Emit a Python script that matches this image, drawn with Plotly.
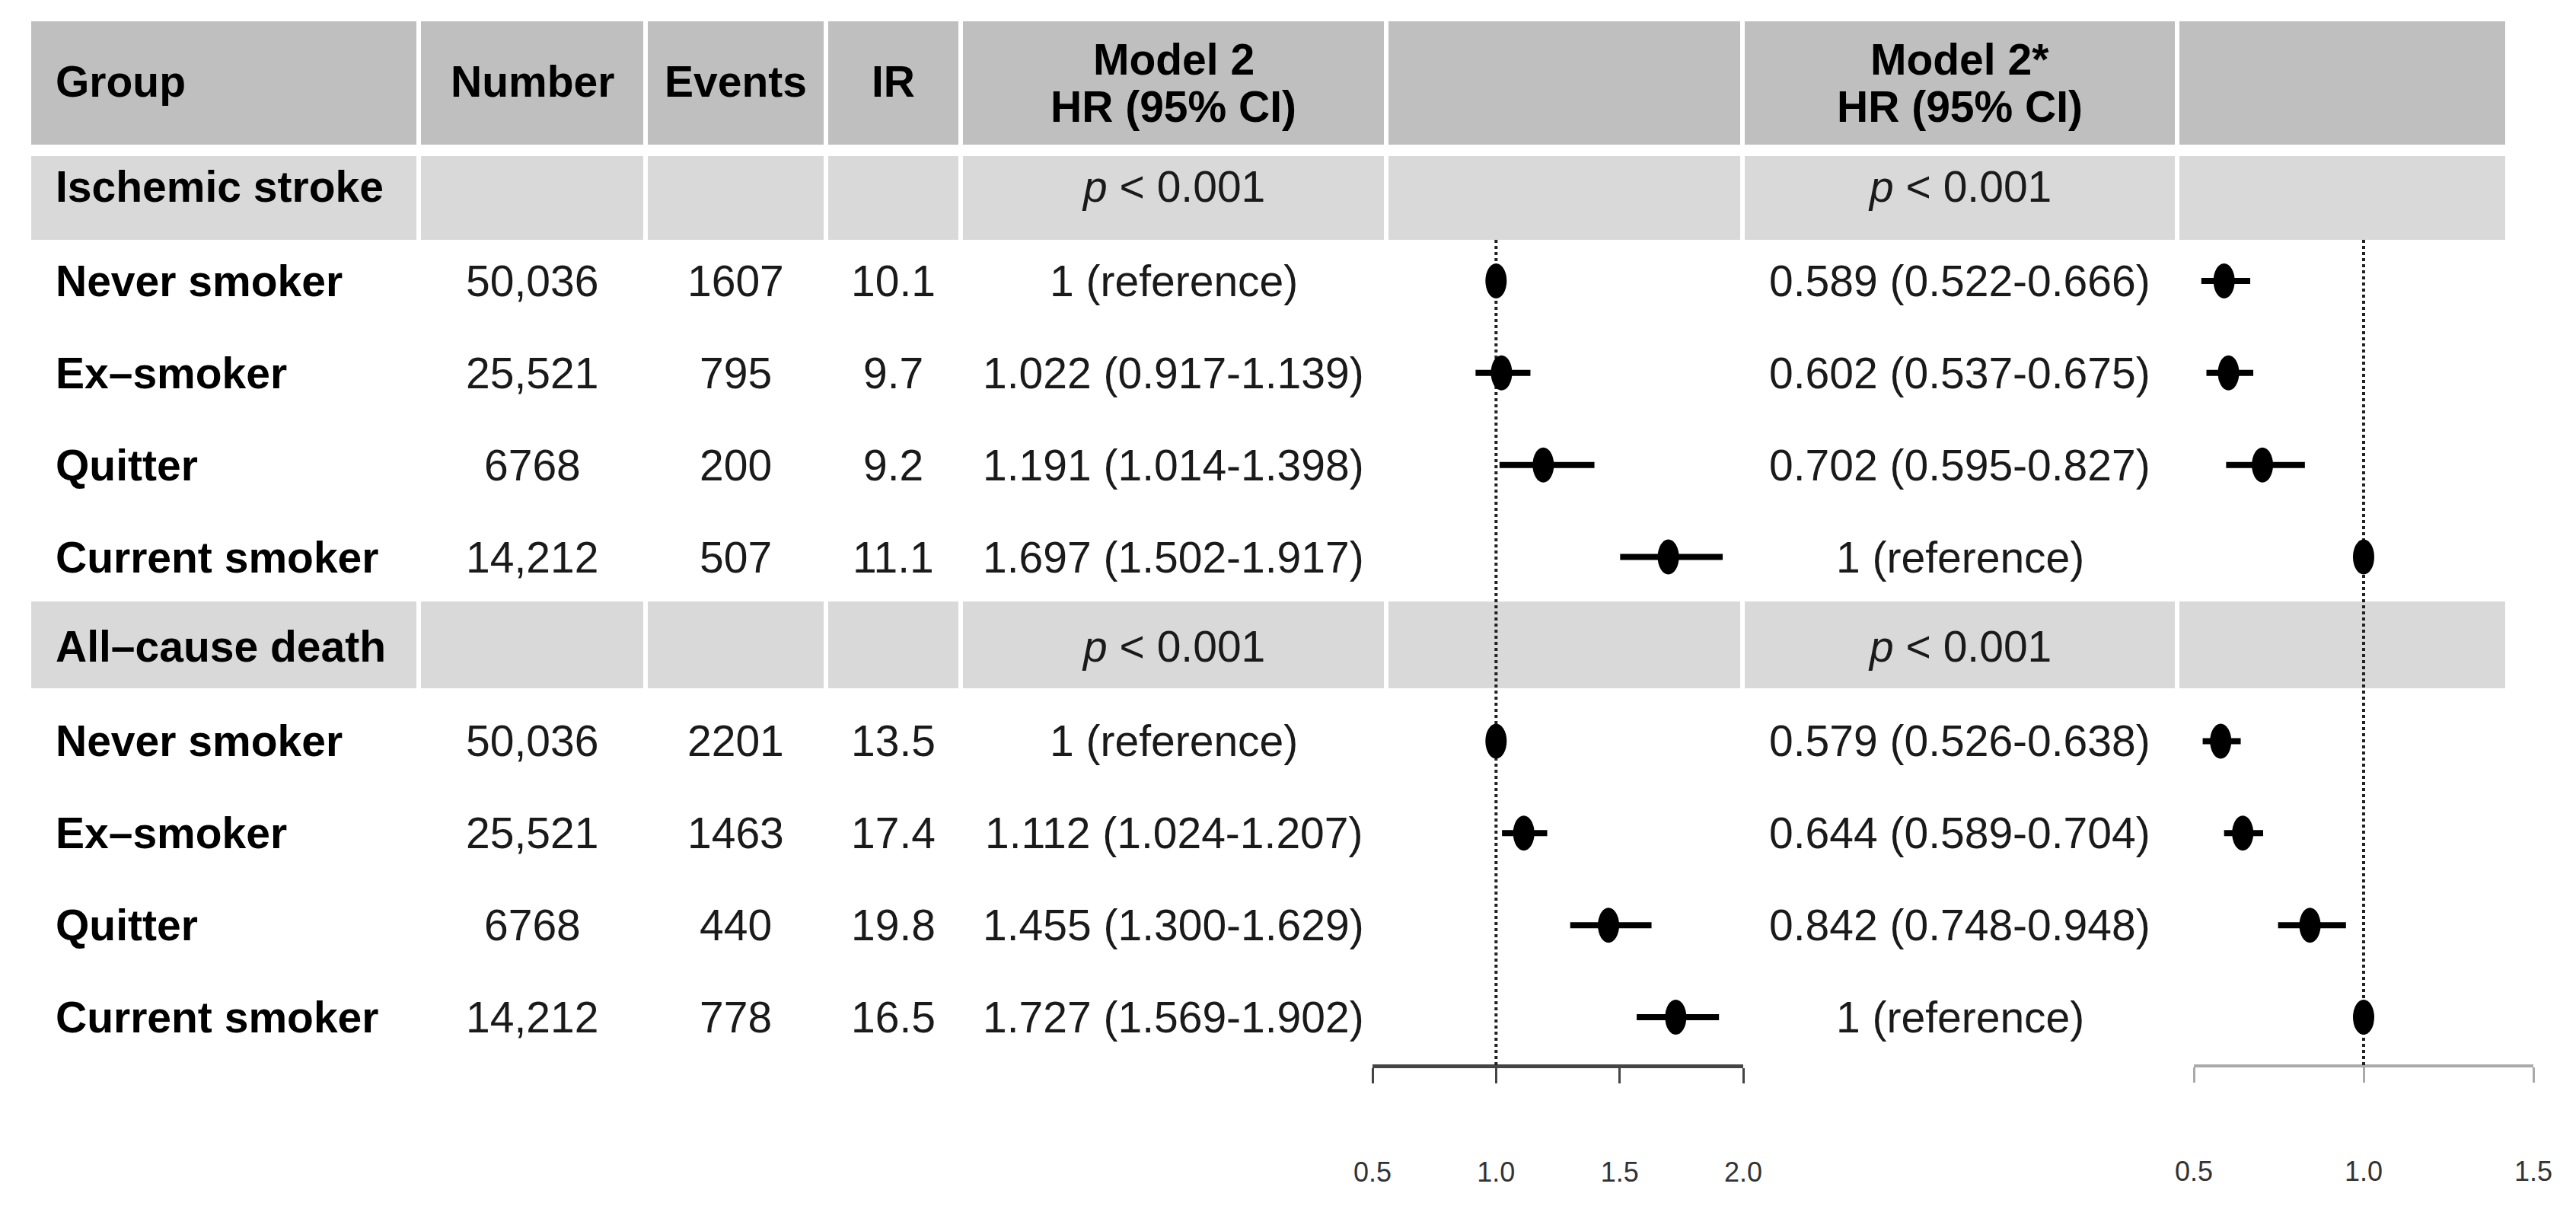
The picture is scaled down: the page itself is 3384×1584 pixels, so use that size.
import plotly.graph_objects as go

# ---------------- data ----------------
outcomes = ["Ischemic stroke", "All–cause death"]
groups = ["Never smoker", "Ex–smoker", "Quitter", "Current smoker"]
p_text = ["<i>p</i> &lt; 0.001", "<i>p</i> &lt; 0.001"]
numbers = [[50036, 25521, 6768, 14212], [50036, 25521, 6768, 14212]]
events = [[1607, 795, 200, 507], [2201, 1463, 440, 778]]
ir = [[10.1, 9.7, 9.2, 11.1], [13.5, 17.4, 19.8, 16.5]]
m2_hr = [[1.0, 1.022, 1.191, 1.697], [1.0, 1.112, 1.455, 1.727]]
m2_lo = [[1.0, 0.917, 1.014, 1.502], [1.0, 1.024, 1.300, 1.569]]
m2_hi = [[1.0, 1.139, 1.398, 1.917], [1.0, 1.207, 1.629, 1.902]]
m2s_hr = [[0.589, 0.602, 0.702, 1.0], [0.579, 0.644, 0.842, 1.0]]
m2s_lo = [[0.522, 0.537, 0.595, 1.0], [0.526, 0.589, 0.748, 1.0]]
m2s_hi = [[0.666, 0.675, 0.827, 1.0], [0.638, 0.704, 0.948, 1.0]]
header_lines = [["Group"], ["Number"], ["Events"], ["IR"],
                ["Model 2", "HR (95% CI)"], [], ["Model 2*", "HR (95% CI)"], []]
ticks1 = [0.5, 1.0, 1.5, 2.0]
ticks1_text = ["0.5", "1.0", "1.5", "2.0"]
ticks2 = [0.5, 1.0, 1.5]
ticks2_text = ["0.5", "1.0", "1.5"]

# ---------------- layout constants (pixels) ----------------
W, H = 3384, 1584
ROW0_PX, ROW_PX = 248.0, 120.9          # pixel centre of row 0 and row pitch
col_edges = [41, 550, 848, 1085, 1262, 1821, 2289, 2860, 3291]
GAP = 3
TEXT_LEFT = 71
FONT = "Liberation Sans, Arial, sans-serif"
FS = 57
HEADER_FILL = "#bfbfbf"
SUB_FILL = "#d9d9d9"
HDR_TOP, HDR_BOT = 28, 190
HDR_SINGLE = 107
HDR_LINES = [78, 140]
SUB_BOXES = [(205, 315), (790, 904)]
SUB_TEXT = [245, 849]
AXIS_PX = 1400
TICK_STANDOFF = 86
ELL_W, ELL_H = 14, 23


def pix2row(p):
    return (p - ROW0_PX) / ROW_PX


Y_TOP = pix2row(0)
Y_BOT = pix2row(H)
AXIS_ROW = pix2row(AXIS_PX)
axis_paper = 1 - AXIS_PX / H


def px(x):
    return x / W


def col_center(c):
    return px((col_edges[c] + col_edges[c + 1]) / 2)


def fmt_hr(h, lo, hi):
    if lo == hi:
        return "1 (reference)"
    return f"{h:.3f} ({lo:.3f}-{hi:.3f})"


def fmt_n(n):
    return f"{n:,}" if n >= 10000 else str(n)


shapes = []
annotations = []


def cell_rects(y0, y1, fill):
    ncol = len(col_edges) - 1
    for c in range(ncol):
        x0 = col_edges[c] + (GAP if c > 0 else 0)
        x1 = col_edges[c + 1] - (GAP if c < ncol - 1 else 0)
        shapes.append(dict(type="rect", xref="paper", yref="y", x0=px(x0), x1=px(x1),
                           y0=y0, y1=y1, fillcolor=fill, line=dict(width=0), layer="below"))


def add_text(x, y, text, bold=False, align="center", color="#1a1a1a"):
    annotations.append(dict(xref="paper", yref="y", x=x, y=y,
                            text=f"<b>{text}</b>" if bold else text,
                            showarrow=False, xanchor=align, yanchor="middle",
                            font=dict(family=FONT, size=FS, color="#000" if bold else color)))


# header
cell_rects(pix2row(HDR_TOP), pix2row(HDR_BOT), HEADER_FILL)
for c, lines in enumerate(header_lines):
    if not lines:
        continue
    ys = [HDR_SINGLE] if len(lines) == 1 else HDR_LINES
    for line, yy in zip(lines, ys):
        if c == 0:
            add_text(px(TEXT_LEFT), pix2row(yy), line, bold=True, align="left")
        else:
            add_text(col_center(c), pix2row(yy), line, bold=True)

# body rows
rows_all, x1_all, x2_all = [], [], []
e1p, e1m, e2p, e2m = [], [], [], []
row = 0
for b, outcome in enumerate(outcomes):
    cell_rects(pix2row(SUB_BOXES[b][0]), pix2row(SUB_BOXES[b][1]), SUB_FILL)
    yt = pix2row(SUB_TEXT[b])
    add_text(px(TEXT_LEFT), yt, outcome, bold=True, align="left")
    add_text(col_center(4), yt, p_text[b])
    add_text(col_center(6), yt, p_text[b])
    row += 1
    for g, grp in enumerate(groups):
        add_text(px(TEXT_LEFT), row, grp, bold=True, align="left")
        add_text(col_center(1), row, fmt_n(numbers[b][g]))
        add_text(col_center(2), row, str(events[b][g]))
        add_text(col_center(3), row, f"{ir[b][g]:.1f}")
        add_text(col_center(4), row, fmt_hr(m2_hr[b][g], m2_lo[b][g], m2_hi[b][g]))
        add_text(col_center(6), row, fmt_hr(m2s_hr[b][g], m2s_lo[b][g], m2s_hi[b][g]))
        rows_all.append(row)
        x1_all.append(m2_hr[b][g]); x2_all.append(m2s_hr[b][g])
        e1p.append(m2_hi[b][g] - m2_hr[b][g]); e1m.append(m2_hr[b][g] - m2_lo[b][g])
        e2p.append(m2s_hi[b][g] - m2s_hr[b][g]); e2m.append(m2s_hr[b][g] - m2s_lo[b][g])
        row += 1

sub0_bottom = pix2row(SUB_BOXES[0][1])

fig = go.Figure()
for xs, ep, em, xa in [(x1_all, e1p, e1m, "x2"), (x2_all, e2p, e2m, "x3")]:
    fig.add_trace(go.Scatter(
        x=xs, y=rows_all, xaxis=xa, yaxis="y", mode="markers",
        marker=dict(symbol="circle", size=24, color="black"),
        error_x=dict(type="data", symmetric=False, array=ep, arrayminus=em,
                     thickness=8, width=0, color="black"),
        cliponaxis=False, showlegend=False, hoverinfo="x+y"))
    # reference line at HR = 1
    shapes.append(dict(type="line", xref=xa, yref="y", x0=1.0, x1=1.0,
                       y0=sub0_bottom, y1=AXIS_ROW,
                       line=dict(color="#222222", width=4, dash="dot"), layer="above"))
    # elliptical point markers
    for xv, yv in zip(xs, rows_all):
        shapes.append(dict(type="circle", xref=xa, yref="y",
                           xsizemode="pixel", ysizemode="pixel",
                           xanchor=xv, yanchor=yv,
                           x0=-ELL_W, x1=ELL_W, y0=-ELL_H, y1=ELL_H,
                           fillcolor="black", line=dict(width=0), layer="above"))

axis_common = dict(anchor="free", position=axis_paper, showline=True,
                   ticks="outside", ticklen=20, tickwidth=3, automargin=False,
                   tickfont=dict(family="Liberation Sans Narrow, Liberation Sans, sans-serif",
                                 size=36, color="#333333"),
                   ticklabelstandoff=TICK_STANDOFF, showgrid=False, zeroline=False,
                   fixedrange=True)

fig.update_layout(
    template="none",
    width=W, height=H, autosize=False,
    margin=dict(l=0, r=0, t=0, b=0, pad=0, autoexpand=False),
    paper_bgcolor="white", plot_bgcolor="rgba(0,0,0,0)",
    font=dict(family=FONT),
    xaxis2=dict(domain=[px(1803), px(2290)], range=[0.5, 2.0],
                tickvals=ticks1, ticktext=ticks1_text, linewidth=5,
                linecolor="#444444", tickcolor="#444444", **axis_common),
    xaxis3=dict(domain=[px(2882), px(3328)], range=[0.5, 1.5],
                tickvals=ticks2, ticktext=ticks2_text, linewidth=4,
                linecolor="#aaaaaa", tickcolor="#aaaaaa", **axis_common),
    yaxis=dict(domain=[0, 1], range=[Y_BOT, Y_TOP], visible=False, automargin=False,
               showgrid=False, zeroline=False, fixedrange=True, anchor="x2"),
    shapes=shapes, annotations=annotations, showlegend=False,
)

fig.write_html("out.html", config={"displayModeBar": False},
               post_script="document.body.style.margin='0';document.body.style.overflow='hidden';")
